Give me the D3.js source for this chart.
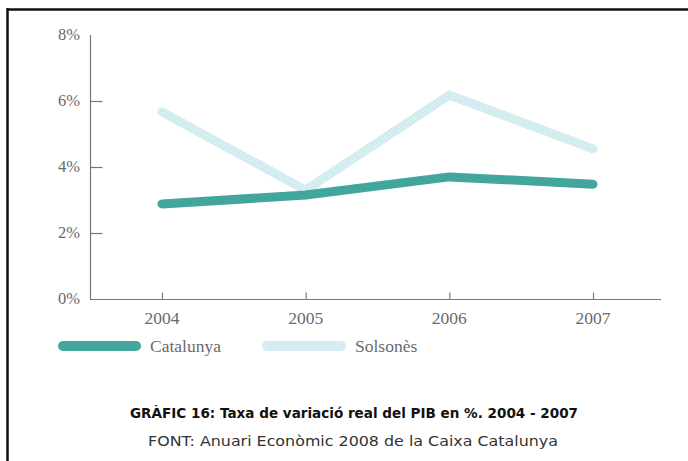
<!DOCTYPE html>
<html><head><meta charset="utf-8">
<script src="https://cdn.jsdelivr.net/npm/d3@7"></script>
<style>body{margin:0;background:#fff}svg{display:block}</style>
</head><body>
<script>
const years = ["2004","2005","2006","2007"];
const catalunya = [2.88, 3.15, 3.7, 3.48];
const solsones = [5.67, 3.3, 6.18, 4.55];
const yTicks = [0, 2, 4, 6, 8];
const seriesNames = ["Catalunya", "Solsonès"];
const titleText = "GRÀFIC 16: Taxa de variació real del PIB en %. 2004 - 2007";
const sourceText = "FONT: Anuari Econòmic 2008 de la Caixa Catalunya";

const W = 688, H = 461;
const svg = d3.select("body").append("svg").attr("width", W).attr("height", H);

// frame
svg.append("line").attr("x1",7).attr("x2",W).attr("y1",9.5).attr("y2",9.5).attr("stroke","#111").attr("stroke-width",2.5);
svg.append("line").attr("x1",7.5).attr("x2",7.5).attr("y1",8).attr("y2",H).attr("stroke","#111").attr("stroke-width",2.5);

const x = d3.scalePoint().domain(years).range([162, 593]);
const y = d3.scaleLinear().domain([0, 8]).range([299, 35]);
const axisColor = "#777";
const labelFont = "'Liberation Serif', 'DejaVu Serif', serif";

// y axis line
svg.append("line").attr("x1",90.5).attr("x2",90.5).attr("y1",y(8)).attr("y2",y(0)).attr("stroke",axisColor).attr("stroke-width",1.2);
// x axis line
svg.append("line").attr("x1",90).attr("x2",661).attr("y1",y(0)+0.5).attr("y2",y(0)+0.5).attr("stroke",axisColor).attr("stroke-width",1.2);

// y ticks and labels
const yAxis = d3.axisRight(y).tickValues(yTicks).tickSize(12).tickFormat(d => "");
const gy = svg.append("g").attr("transform","translate(90.5,0)").call(yAxis);
gy.select(".domain").remove();
gy.selectAll(".tick line").attr("stroke",axisColor).attr("stroke-width",1.2)
  .attr("display", d => (d === 0 || d === 8) ? "none" : null);
svg.selectAll(".ylab").data(yTicks).join("text").attr("class","ylab")
  .attr("x", 80).attr("y", d => y(d) + 5).attr("text-anchor","end")
  .attr("font-family", labelFont).attr("font-size", 16.5).attr("fill","#6a6a6a")
  .text(d => d + "%");

// x ticks and labels
const xAxis = d3.axisTop(x).tickSize(7).tickFormat(d => "");
const gx = svg.append("g").attr("transform",`translate(0,${y(0)+0.5})`).call(xAxis);
gx.select(".domain").remove();
gx.selectAll(".tick line").attr("stroke",axisColor).attr("stroke-width",1.2);
svg.selectAll(".xlab").data(years).join("text").attr("class","xlab")
  .attr("x", d => x(d)).attr("y", y(0) + 25).attr("text-anchor","middle")
  .attr("font-family", labelFont).attr("font-size", 17.5).attr("fill","#6a6a6a")
  .text(d => d);

// pattern for Solsonès
const defs = svg.append("defs");
const pat = defs.append("pattern").attr("id","sols").attr("patternUnits","userSpaceOnUse").attr("width",4).attr("height",4);
pat.append("rect").attr("width",4).attr("height",4).attr("fill","#d6eff3");
pat.append("path").attr("d","M0,4 L4,0").attr("stroke","#c6e8ee").attr("stroke-width",1);

const line = d3.line().x((d,i) => x(years[i])).y(d => y(d));
svg.append("path").datum(solsones).attr("d", line).attr("fill","none")
  .attr("stroke","url(#sols)").attr("stroke-width",9).attr("stroke-linecap","round").attr("stroke-linejoin","miter");
svg.append("path").datum(catalunya).attr("d", line).attr("fill","none")
  .attr("stroke","#42a69c").attr("stroke-width",9).attr("stroke-linecap","round").attr("stroke-linejoin","round");

// legend
const legend = [
  {name: seriesNames[0], x0: 58, x1: 141, tx: 150, color: "#42a69c"},
  {name: seriesNames[1], x0: 262, x1: 346, tx: 355, color: "url(#sols)"}
];
const lg = svg.selectAll(".lg").data(legend).join("g").attr("class","lg");
lg.append("rect").attr("x", d => d.x0).attr("y", 341).attr("width", d => d.x1 - d.x0).attr("height", 10)
  .attr("rx", 5).attr("fill", d => d.color);
lg.append("text").attr("x", d => d.tx).attr("y", 352).attr("font-family", labelFont).attr("font-size", 17.5)
  .attr("fill","#6a6a6a").text(d => d.name);

// title and source
svg.append("text").attr("x", 130).attr("y", 418)
  .attr("font-family","'DejaVu Sans', sans-serif").attr("font-weight","bold").attr("font-size",14)
  .attr("textLength", 448).attr("lengthAdjust","spacingAndGlyphs")
  .attr("fill","#111").text(titleText);
svg.append("text").attr("x", 148).attr("y", 446)
  .attr("font-family","'DejaVu Sans', sans-serif").attr("font-size",14.5)
  .attr("textLength", 410).attr("lengthAdjust","spacingAndGlyphs")
  .attr("fill","#333").text(sourceText);
</script>
</body></html>
